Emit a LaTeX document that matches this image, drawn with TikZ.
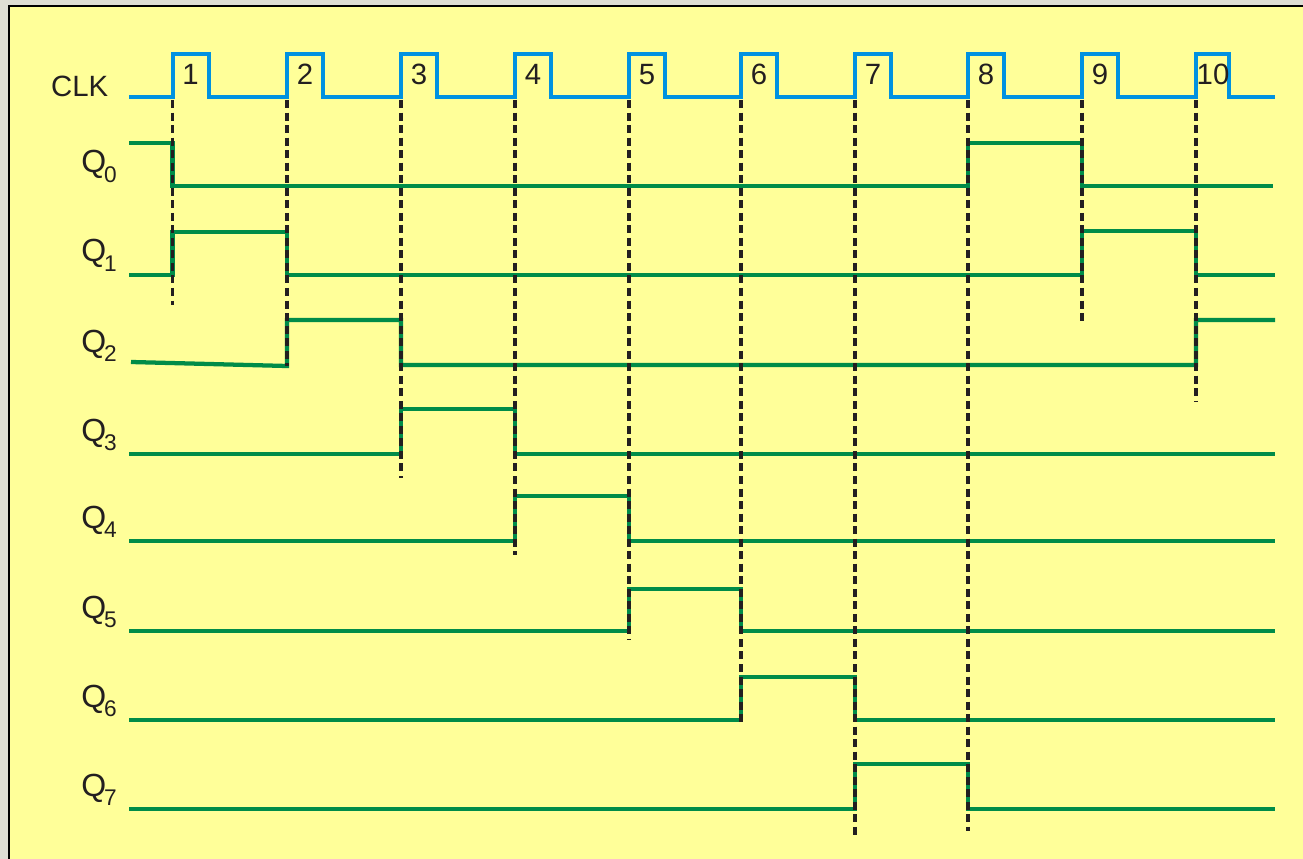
\documentclass[tikz,border=0pt]{standalone}
\usepackage{fontspec}
\setmainfont{Liberation Sans}
\definecolor{bgyel}{RGB}{255,255,153}
\definecolor{outergray}{RGB}{222,222,212}
\definecolor{clkblue}{RGB}{0,146,224}
\definecolor{sig}{RGB}{0,140,72}
\definecolor{ink}{RGB}{35,31,32}
\begin{document}
\begin{tikzpicture}[x=0.75pt,y=-0.75pt,
  clkline/.style={draw=clkblue,line width=3pt,line join=miter},
  wave/.style={draw=sig,line width=3.2pt,line join=miter},
  guide/.style={draw=ink,line width=2.3pt,dash pattern=on 6pt off 3.4pt},
  lbl/.style={font=\fontsize{22}{22}\selectfont,text=ink,inner sep=0pt}]
\useasboundingbox (0,0) rectangle (1303,859);
\fill[outergray] (0,0) rectangle (1303,859);
\fill[bgyel] (9,6) rectangle (1303,859);
\draw[line width=1.8pt] (9,859) -- (9,6) -- (1303,6);

% clock
\draw[clkline] (129,97)
  foreach \r/\f in {172.5/209,287/323,401/437,515/551,629/665,741/777,855/891,968/1004,1082/1118,1196/1229}
  { -- (\r,97) -- (\r,54) -- (\f,54) -- (\f,97) } -- (1275,97);

\node[lbl,anchor=base east] (clklbl) at (108.5,97) {CLK};
\foreach \r/\n in {172.5/1,287/2,401/3,515/4,629/5,741/6,855/7,968/8,1082/9}
  \node[lbl,anchor=base] (n\n) at (\r+18,85) {\n};
\node[lbl,anchor=base] (n10) at (1213,85) {10};

% Q labels
\foreach \i/\L in {0/186,1/275,2/365,3/454,4/541,5/631,6/720,7/809}
  \node[lbl,anchor=base west] (q\i) at (81,\L-13) {\fontsize{24}{24}\selectfont Q\kern-1.6pt\raisebox{-7pt}{\fontsize{17}{17}\selectfont\i}};

% waveforms
\draw[wave] (129,143) -- (172.5,143) -- (172.5,186) -- (968,186) -- (968,143) -- (1082,143) -- (1082,186) -- (1273,186);
\draw[wave] (129,275) -- (172.5,275) -- (172.5,232) -- (287,232) -- (287,275) -- (1082,275) -- (1082,231) -- (1196,231) -- (1196,275) -- (1275,275);
\draw[wave] (131,362) -- (287,366) -- (287,320) -- (401,320) -- (401,365) -- (1196,365) -- (1196,320) -- (1275,320);
\draw[wave] (129,454) -- (401,454) -- (401,409) -- (515,409) -- (515,454) -- (1275,454);
\draw[wave] (129,541) -- (515,541) -- (515,496) -- (629,496) -- (629,541) -- (1275,541);
\draw[wave] (129,631) -- (629,631) -- (629,589) -- (741,589) -- (741,631) -- (1275,631);
\draw[wave] (129,720) -- (741,720) -- (741,677) -- (855,677) -- (855,720) -- (1275,720);
\draw[wave] (129,809) -- (855,809) -- (855,764) -- (968,764) -- (968,809) -- (1275,809);

% guide lines
\foreach \r/\e in {172.5/305,287/366,401/478,515/555,629/640,741/722,855/837,968/831,1082/321,1196/401}
  \draw[guide] (\r,100) -- (\r,\e);
\end{tikzpicture}
\end{document}
